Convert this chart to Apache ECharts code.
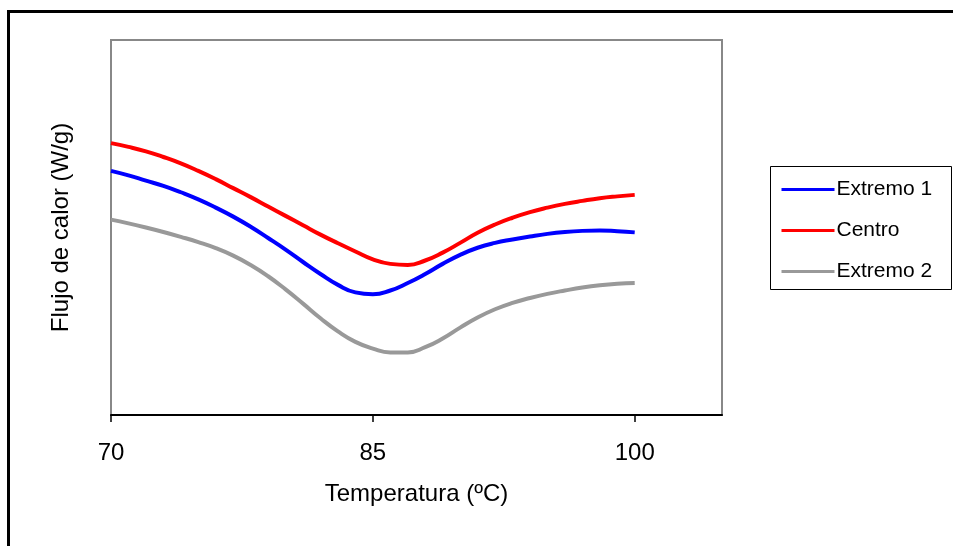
<!DOCTYPE html>
<html>
<head>
<meta charset="utf-8">
<script src="https://cdn.jsdelivr.net/npm/echarts@6/dist/echarts.min.js"></script>
<style>
html,body{margin:0;padding:0;background:#fff;}
#chart{width:953px;height:546px;}
</style>
</head>
<body>
<div id="chart"></div>
<script>
const temperatures = [70,71,72,73,74,75,76,77,78,79,80,81,82,83,84,85,86,87,88,89,90,91,92,93,94,95,96,97,98,99,100];
const extremo1 = [6.51,6.39,6.25,6.11,5.94,5.75,5.53,5.29,5.02,4.72,4.41,4.08,3.76,3.47,3.27,3.22,3.32,3.52,3.76,4.03,4.27,4.46,4.59,4.68,4.76,4.83,4.88,4.91,4.92,4.90,4.87];
const centro   = [7.25,7.15,7.03,6.88,6.71,6.51,6.29,6.05,5.81,5.56,5.31,5.06,4.81,4.58,4.36,4.15,4.03,4.00,4.12,4.33,4.59,4.86,5.08,5.26,5.41,5.53,5.63,5.71,5.78,5.83,5.87];
const extremo2 = [5.21,5.11,5.00,4.88,4.75,4.61,4.45,4.25,4.00,3.70,3.35,2.97,2.58,2.23,1.95,1.77,1.67,1.67,1.81,2.04,2.33,2.60,2.82,2.99,3.12,3.23,3.32,3.40,3.46,3.50,3.52];
const xTicks = [70,85,100];
const seriesNames = ['Extremo 1','Centro','Extremo 2'];

const pair = arr => temperatures.map((t,i)=>[t,arr[i]]);
const font = 'Liberation Sans, Arial, sans-serif';

const chart = echarts.init(document.getElementById('chart'));
chart.setOption({
  animation:false,
  graphic:[
    {type:'rect', shape:{x:8.5,y:11.5,width:1000,height:600}, style:{fill:null,stroke:'#000',lineWidth:3}, silent:true},
    {type:'rect', shape:{x:770.5,y:166.5,width:181,height:123}, style:{fill:'#fff',stroke:'#000',lineWidth:1}, z:-1, silent:true}
  ],
  grid:{left:111,top:40,width:611,height:375,show:true,borderColor:'#888',borderWidth:2,backgroundColor:'#fff'},
  legend:{
    orient:'vertical', left:775, top:174, itemWidth:53, itemHeight:10, itemGap:20,
    data:seriesNames,
    textStyle:{fontFamily:font,fontSize:21,color:'#000',lineHeight:20,padding:[0,0,0,-3]},
    itemStyle:{opacity:0}, lineStyle:{width:3}
  },
  xAxis:{
    type:'value', min:70, max:105,
    name:'Temperatura (ºC)', nameLocation:'middle', nameGap:67,
    nameTextStyle:{fontFamily:font,fontSize:24,color:'#000'},
    axisLine:{show:true,onZero:false,lineStyle:{color:'#000',width:2}},
    axisTick:{show:true,length:7,customValues:xTicks,lineStyle:{color:'#000',width:1.5}},
    axisLabel:{customValues:xTicks,fontFamily:font,fontSize:24,color:'#000',margin:26},
    splitLine:{show:false}
  },
  yAxis:{
    type:'value', min:0, max:10,
    name:'Flujo de calor (W/g)', nameLocation:'middle', nameGap:38,
    nameTextStyle:{fontFamily:font,fontSize:24,color:'#000'},
    axisLine:{show:false}, axisTick:{show:false}, axisLabel:{show:false}, splitLine:{show:false}
  },
  series:[
    {name:seriesNames[0],type:'line',data:pair(extremo1),symbol:'none',smooth:true,lineStyle:{color:'#0000ff',width:4},itemStyle:{color:'#0000ff'}},
    {name:seriesNames[1],type:'line',data:pair(centro),symbol:'none',smooth:true,lineStyle:{color:'#ff0000',width:4},itemStyle:{color:'#ff0000'}},
    {name:seriesNames[2],type:'line',data:pair(extremo2),symbol:'none',smooth:true,lineStyle:{color:'#999999',width:4},itemStyle:{color:'#999999'}}
  ]
});
</script>
</body>
</html>
